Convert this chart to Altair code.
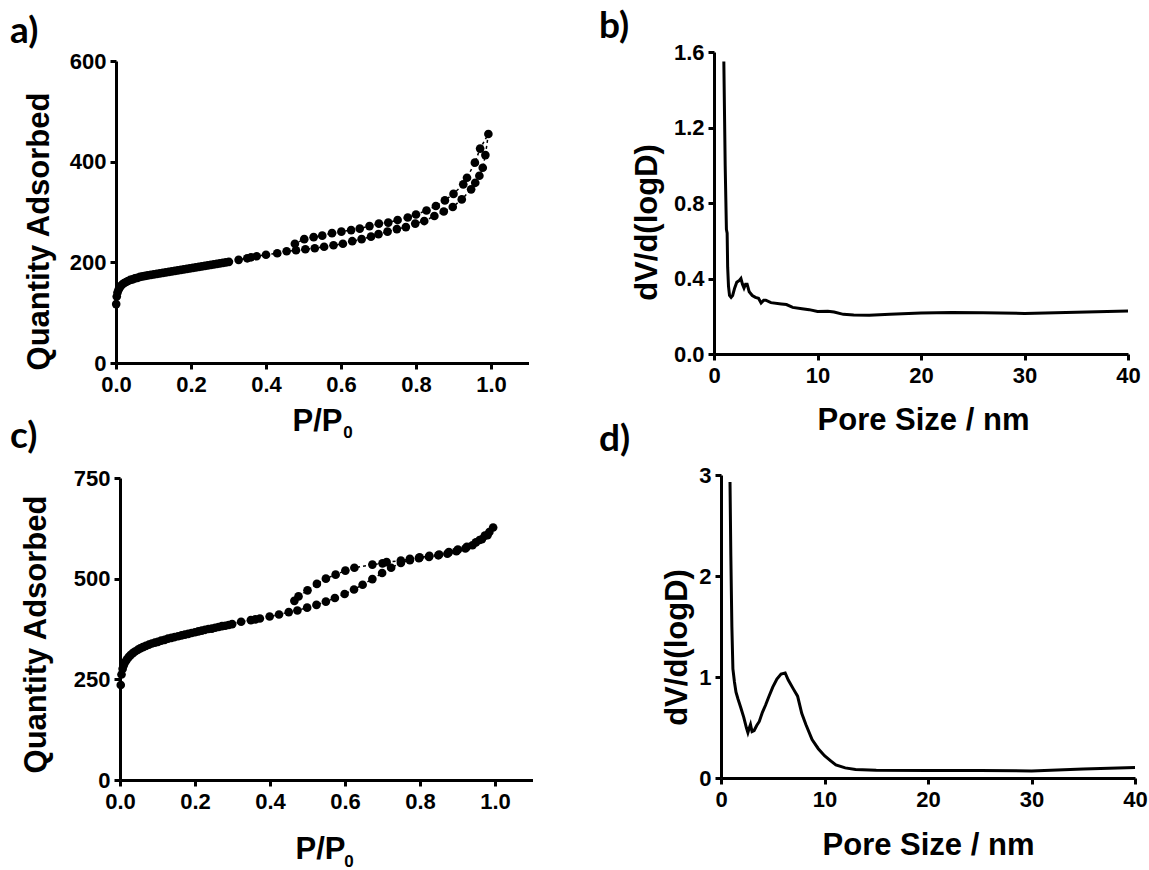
import altair as alt
import pandas as pd

# ---------------- Panel a : isotherm (sample 1) ----------------
a_ads_p = [0.0005, 0.002, 0.004, 0.007, 0.010, 0.014, 0.018, 0.022, 0.027, 0.032,
           0.038, 0.044, 0.050, 0.057, 0.064, 0.071, 0.078, 0.085, 0.093, 0.101,
           0.109, 0.117, 0.125, 0.133, 0.141, 0.149, 0.157, 0.165, 0.173, 0.181,
           0.189, 0.197, 0.205, 0.213, 0.221, 0.229, 0.237, 0.245, 0.253, 0.261,
           0.269, 0.277, 0.285, 0.293, 0.301, 0.327, 0.350, 0.360, 0.375, 0.400,
           0.430, 0.455, 0.480, 0.505, 0.530, 0.555, 0.580, 0.605, 0.630, 0.655,
           0.680, 0.700, 0.724, 0.749, 0.773, 0.798, 0.822, 0.849, 0.874, 0.898,
           0.922, 0.947, 0.958, 0.969, 0.978, 0.985, 0.993]
a_ads_q = [117, 132, 140, 146, 150, 154, 157, 159, 161, 163,
           165, 166, 168, 169, 171, 172, 173, 174, 175, 176,
           177, 178, 179, 180, 181, 182, 183, 184, 185, 186,
           187, 188, 189, 190, 191, 192, 193, 194, 195, 196,
           197, 198, 199, 200, 201, 205, 208, 210, 212, 215,
           218, 222, 224, 226, 228, 231, 234, 237, 242, 246,
           251, 256, 261, 266, 270, 277, 282, 292, 301, 310,
           325, 345, 358, 372, 388, 413, 455]
a_des_p = [0.971, 0.957, 0.936, 0.926, 0.900, 0.877, 0.853, 0.828, 0.800, 0.778,
           0.751, 0.726, 0.701, 0.676, 0.650, 0.627, 0.601, 0.576, 0.550, 0.527,
           0.502, 0.477]
a_des_q = [426, 398, 368, 355, 336, 323, 312, 303, 295, 289,
           284, 279, 277, 272, 267, 264, 261, 258, 253, 250,
           246, 237]

# ---------------- Panel b : pore size distribution (sample 1) ----------------
b_size = [0.95, 1.08, 1.2, 1.27, 1.32, 1.4, 1.5, 1.65, 1.8, 2.0,
          2.2, 2.45, 2.6, 2.75, 2.9, 3.05, 3.2, 3.4, 3.7, 4.0,
          4.3, 4.55, 4.8, 5.0, 5.5, 6.5, 7.0, 7.6, 8.5, 9.2,
          10.0, 11.0, 11.6, 12.5, 13.5, 15.0, 17.0, 20.0, 23.0, 26.0,
          30.0, 33.0, 36.0, 40.0]
b_dv = [1.55, 1.0, 0.66, 0.64, 0.46, 0.36, 0.31, 0.30, 0.31, 0.35,
        0.38, 0.39, 0.40, 0.37, 0.35, 0.37, 0.37, 0.33, 0.31, 0.30,
        0.295, 0.27, 0.285, 0.285, 0.272, 0.265, 0.262, 0.247, 0.24, 0.235,
        0.225, 0.226, 0.222, 0.21, 0.207, 0.205, 0.211, 0.217, 0.22, 0.219,
        0.215, 0.218, 0.222, 0.228]

# ---------------- Panel c : isotherm (sample 2) ----------------
c_ads_p = [0.002, 0.004, 0.007, 0.010, 0.014, 0.018, 0.023, 0.028, 0.034, 0.040,
           0.047, 0.054, 0.061, 0.069, 0.077, 0.085, 0.093, 0.101, 0.110, 0.119,
           0.128, 0.137, 0.146, 0.155, 0.164, 0.173, 0.182, 0.191, 0.200, 0.209,
           0.218, 0.227, 0.236, 0.245, 0.254, 0.263, 0.272, 0.281, 0.290, 0.299,
           0.323, 0.349, 0.361, 0.373, 0.399, 0.424, 0.450, 0.473, 0.499, 0.524,
           0.549, 0.573, 0.599, 0.624, 0.647, 0.673, 0.699, 0.723, 0.749, 0.773,
           0.797, 0.824, 0.849, 0.873, 0.897, 0.921, 0.940, 0.959, 0.973, 0.985,
           0.995]
c_ads_q = [236, 262, 276, 285, 293, 299, 305, 310, 315, 319,
           323, 327, 330, 333, 336, 339, 341, 343, 346, 348,
           351, 353, 355, 357, 359, 361, 363, 365, 367, 369,
           371, 373, 375, 376, 378, 380, 382, 383, 385, 387,
           393, 397, 399, 401, 406, 411, 417, 421, 428, 435,
           443, 452, 462, 473, 485, 499, 514, 527, 539, 546,
           551, 554, 558, 562, 568, 575, 583, 596, 607, 616,
           627]
c_des_p = [0.980, 0.965, 0.949, 0.925, 0.901, 0.877, 0.851, 0.825, 0.799, 0.773,
           0.749, 0.711, 0.700, 0.673, 0.625, 0.601, 0.575, 0.549, 0.525, 0.500,
           0.476, 0.465]
c_des_q = [608, 598, 590, 579, 572, 566, 560, 557, 553, 549,
           545, 541, 538, 535, 527, 520, 510, 500, 487, 471,
           456, 445]

# ---------------- Panel d : pore size distribution (sample 2) ----------------
d_size = [0.87, 0.95, 1.05, 1.15, 1.3, 1.45, 1.65, 1.9, 2.2, 2.45,
          2.6, 2.75, 2.85, 3.0, 3.2, 3.45, 3.7, 4.0, 4.3, 4.6,
          5.0, 5.4, 5.8, 6.2, 6.5, 7.0, 7.4, 7.8, 8.2, 8.8,
          9.4, 10.0, 10.6, 11.1, 12.0, 13.0, 15.0, 20.0, 25.0, 30.0,
          35.0, 40.0]
d_dv = [2.93, 2.2, 1.5, 1.08, 0.95, 0.85, 0.78, 0.70, 0.60, 0.50,
        0.45, 0.50, 0.53, 0.46, 0.47, 0.52, 0.56, 0.65, 0.72, 0.80,
        0.90, 0.98, 1.03, 1.04, 0.97, 0.88, 0.81, 0.64, 0.53, 0.38,
        0.29, 0.22, 0.17, 0.13, 0.10, 0.085, 0.077, 0.075, 0.075, 0.069,
        0.09, 0.105]

# tick values / labels
iso_xticks = [0.0, 0.2, 0.4, 0.6, 0.8, 1.0]
a_yticks = [0, 200, 400, 600]
c_yticks = [0, 250, 500, 750]
psd_xticks = [0, 10, 20, 30, 40]
b_yticks = [0.0, 0.4, 0.8, 1.2, 1.6]
d_yticks = [0, 1, 2, 3]

AXF = "Liberation Sans"
LBF = "Lato"
BLACK = "#000000"


def make_axis(values, fmt, title, title_x, title_y, baseline, pad, offset=0):
    kw = dict(values=values, format=fmt, title=title, grid=False,
              domainColor=BLACK, domainWidth=3,
              tickColor=BLACK, tickWidth=3, tickSize=6,
              labelFont=AXF, labelFontSize=22, labelFontWeight="bold",
              labelColor=BLACK, labelPadding=pad, labelFlush=False,
              titleFont=AXF, titleFontSize=31, titleFontWeight="bold",
              titleColor=BLACK, titleX=title_x, titleY=title_y,
              titleBaseline=baseline, titleAlign="center")
    if offset:
        kw["offset"] = offset
    return alt.Axis(**kw)


def text_layer(txt, x, y, size, font, align="left"):
    return alt.Chart(pd.DataFrame({"t": [txt]})).mark_text(
        font=font, fontSize=size, fontWeight="bold", color=BLACK,
        align=align, baseline="alphabetic").encode(
        x=alt.value(x), y=alt.value(y), text="t:N")


def iso_panel(ads_p, ads_q, des_p, des_q, ymax, yticks, width, height,
              xrange, yrange, yoff, ytx, yty, xtx, xty, label, lx, ly, sx, sy):
    rows = []
    for i, (p, q) in enumerate(zip(ads_p, ads_q)):
        rows.append({"p": p, "q": q, "o": i})
    n = len(rows)
    for j, (p, q) in enumerate(zip(des_p, des_q)):
        rows.append({"p": p, "q": q, "o": n + j})
    df = pd.DataFrame(rows)
    x = alt.X("p:Q", scale=alt.Scale(domain=[0, 1.1], range=xrange, nice=False, zero=False),
              axis=make_axis(iso_xticks, ".1f", "P/P", xtx, xty, "alphabetic", 5))
    y = alt.Y("q:Q", scale=alt.Scale(domain=[0, ymax], range=yrange, nice=False),
              axis=make_axis(yticks, "d", "Quantity Adsorbed", ytx, yty, "middle", 4, yoff))
    base = alt.Chart(df)
    line = base.mark_line(color=BLACK, strokeWidth=1.5, strokeDash=[3, 3]).encode(
        x=x, y=y, order="o:Q")
    pts = base.mark_circle(color=BLACK, size=75, opacity=1).encode(x=x, y=y)
    return alt.layer(line, pts,
                     text_layer(label, lx, ly, 37, LBF),
                     text_layer("0", sx, sy, 17, AXF, "center")).properties(
        width=width, height=height)


def psd_panel(size, dv, ymax, yticks, yfmt, width, height, xrange, yoff,
              ytx, yty, xtx, xty, label, lx, ly):
    df = pd.DataFrame({"s": size, "v": dv})
    x = alt.X("s:Q", scale=alt.Scale(domain=[0, 40], range=xrange, nice=False, zero=False),
              axis=make_axis(psd_xticks, "d", "Pore Size / nm", xtx, xty, "alphabetic", 5))
    y = alt.Y("v:Q", scale=alt.Scale(domain=[0, ymax], nice=False),
              axis=make_axis(yticks, yfmt, "dV/d(logD)", ytx, yty, "middle", 4, yoff))
    line = alt.Chart(df).mark_line(color=BLACK, strokeWidth=3).encode(x=x, y=y, order="s:Q")
    return alt.layer(line, text_layer(label, lx, ly, 37, LBF)).properties(
        width=width, height=height)


pa = iso_panel(a_ads_p, a_ads_q, a_des_p, a_des_q, 600, a_yticks, 413, 311,
               [0, 412.5], [311, 9], 0, -77, 179, 201, 67, "a)", -106, -9, 232, 386)
pb = psd_panel(b_size, b_dv, 1.6, b_yticks, ".1f", 414, 302, [0, 414], 0,
               -67, 170, 209, 75, "b)", -115, -14)
pc = iso_panel(c_ads_p, c_ads_q, c_des_p, c_des_q, 750, c_yticks, 417, 305,
               [4, 416.5], [305, 3], -4, -84, 159, 204, 78, "c)", -106, -27, 233, 392)
pd_ = psd_panel(d_size, d_dv, 3, d_yticks, "d", 421, 303, [7, 421], -7,
                -44, 172, 214, 76, "d)", -115, -24)

chart = alt.concat(pa, pb, pc, pd_, columns=2,
                   spacing={"row": 112, "column": 177},
                   bounds="flush", align="all").properties(
    padding={"left": 9, "top": 7, "right": 0, "bottom": 0},
    background="white",
).configure_view(stroke="transparent")

chart.save("out.html", embed_options={"renderer": "svg", "actions": False})
